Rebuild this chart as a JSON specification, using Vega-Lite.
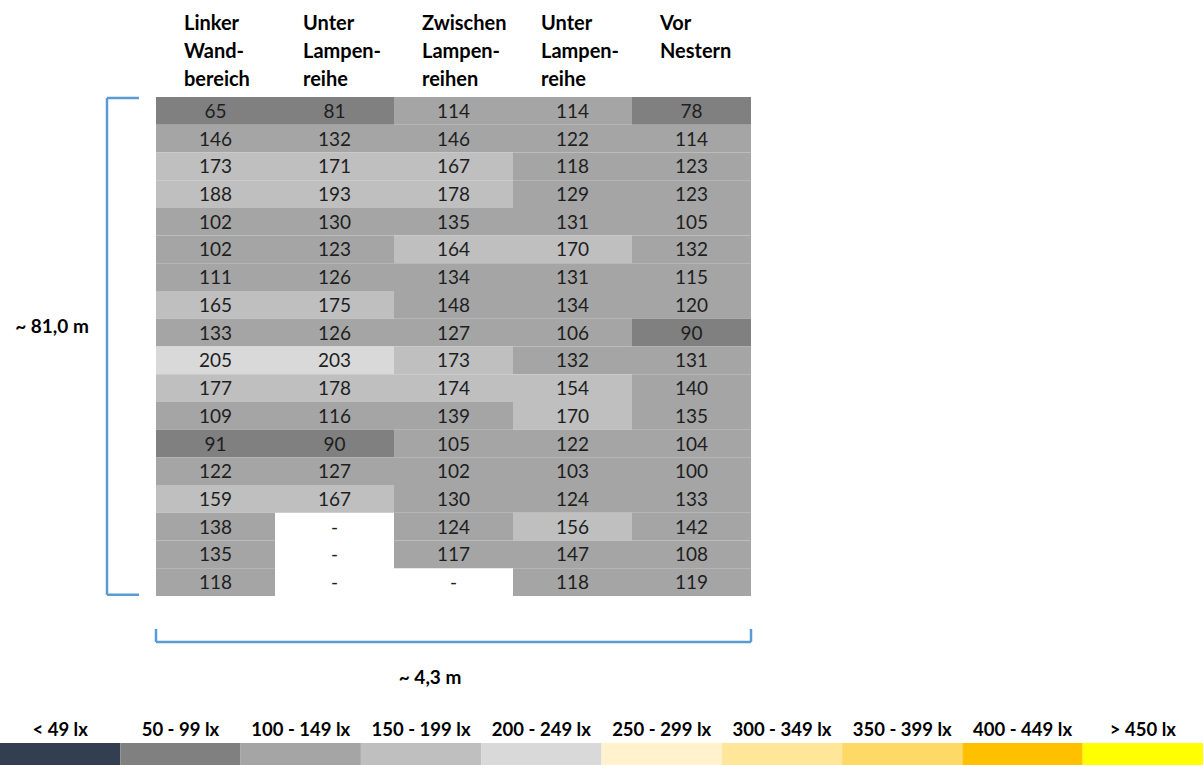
{
  "$schema": "https://vega.github.io/schema/vega-lite/v6.json",
  "width": 1203,
  "height": 765,
  "autosize": {"type": "fit", "contains": "padding"},
  "padding": 0,
  "background": "white",
  "config": {"view": {"stroke": null}, "font": "Lato"},
  "datasets": {
    "cells": [
      {"reihe":1,"spalte":1,"lux":65},{"reihe":1,"spalte":2,"lux":81},{"reihe":1,"spalte":3,"lux":114},{"reihe":1,"spalte":4,"lux":114},{"reihe":1,"spalte":5,"lux":78},
      {"reihe":2,"spalte":1,"lux":146},{"reihe":2,"spalte":2,"lux":132},{"reihe":2,"spalte":3,"lux":146},{"reihe":2,"spalte":4,"lux":122},{"reihe":2,"spalte":5,"lux":114},
      {"reihe":3,"spalte":1,"lux":173},{"reihe":3,"spalte":2,"lux":171},{"reihe":3,"spalte":3,"lux":167},{"reihe":3,"spalte":4,"lux":118},{"reihe":3,"spalte":5,"lux":123},
      {"reihe":4,"spalte":1,"lux":188},{"reihe":4,"spalte":2,"lux":193},{"reihe":4,"spalte":3,"lux":178},{"reihe":4,"spalte":4,"lux":129},{"reihe":4,"spalte":5,"lux":123},
      {"reihe":5,"spalte":1,"lux":102},{"reihe":5,"spalte":2,"lux":130},{"reihe":5,"spalte":3,"lux":135},{"reihe":5,"spalte":4,"lux":131},{"reihe":5,"spalte":5,"lux":105},
      {"reihe":6,"spalte":1,"lux":102},{"reihe":6,"spalte":2,"lux":123},{"reihe":6,"spalte":3,"lux":164},{"reihe":6,"spalte":4,"lux":170},{"reihe":6,"spalte":5,"lux":132},
      {"reihe":7,"spalte":1,"lux":111},{"reihe":7,"spalte":2,"lux":126},{"reihe":7,"spalte":3,"lux":134},{"reihe":7,"spalte":4,"lux":131},{"reihe":7,"spalte":5,"lux":115},
      {"reihe":8,"spalte":1,"lux":165},{"reihe":8,"spalte":2,"lux":175},{"reihe":8,"spalte":3,"lux":148},{"reihe":8,"spalte":4,"lux":134},{"reihe":8,"spalte":5,"lux":120},
      {"reihe":9,"spalte":1,"lux":133},{"reihe":9,"spalte":2,"lux":126},{"reihe":9,"spalte":3,"lux":127},{"reihe":9,"spalte":4,"lux":106},{"reihe":9,"spalte":5,"lux":90},
      {"reihe":10,"spalte":1,"lux":205},{"reihe":10,"spalte":2,"lux":203},{"reihe":10,"spalte":3,"lux":173},{"reihe":10,"spalte":4,"lux":132},{"reihe":10,"spalte":5,"lux":131},
      {"reihe":11,"spalte":1,"lux":177},{"reihe":11,"spalte":2,"lux":178},{"reihe":11,"spalte":3,"lux":174},{"reihe":11,"spalte":4,"lux":154},{"reihe":11,"spalte":5,"lux":140},
      {"reihe":12,"spalte":1,"lux":109},{"reihe":12,"spalte":2,"lux":116},{"reihe":12,"spalte":3,"lux":139},{"reihe":12,"spalte":4,"lux":170},{"reihe":12,"spalte":5,"lux":135},
      {"reihe":13,"spalte":1,"lux":91},{"reihe":13,"spalte":2,"lux":90},{"reihe":13,"spalte":3,"lux":105},{"reihe":13,"spalte":4,"lux":122},{"reihe":13,"spalte":5,"lux":104},
      {"reihe":14,"spalte":1,"lux":122},{"reihe":14,"spalte":2,"lux":127},{"reihe":14,"spalte":3,"lux":102},{"reihe":14,"spalte":4,"lux":103},{"reihe":14,"spalte":5,"lux":100},
      {"reihe":15,"spalte":1,"lux":159},{"reihe":15,"spalte":2,"lux":167},{"reihe":15,"spalte":3,"lux":130},{"reihe":15,"spalte":4,"lux":124},{"reihe":15,"spalte":5,"lux":133},
      {"reihe":16,"spalte":1,"lux":138},{"reihe":16,"spalte":2,"lux":null},{"reihe":16,"spalte":3,"lux":124},{"reihe":16,"spalte":4,"lux":156},{"reihe":16,"spalte":5,"lux":142},
      {"reihe":17,"spalte":1,"lux":135},{"reihe":17,"spalte":2,"lux":null},{"reihe":17,"spalte":3,"lux":117},{"reihe":17,"spalte":4,"lux":147},{"reihe":17,"spalte":5,"lux":108},
      {"reihe":18,"spalte":1,"lux":118},{"reihe":18,"spalte":2,"lux":null},{"reihe":18,"spalte":3,"lux":null},{"reihe":18,"spalte":4,"lux":118},{"reihe":18,"spalte":5,"lux":119}
    ],
    "headers": [
      {"spalte":1,"titel":"Linker\nWand-\nbereich"},
      {"spalte":2,"titel":"Unter\nLampen-\nreihe"},
      {"spalte":3,"titel":"Zwischen\nLampen-\nreihen"},
      {"spalte":4,"titel":"Unter\nLampen-\nreihe"},
      {"spalte":5,"titel":"Vor\nNestern"}
    ],
    "legende": [
      {"label":"< 49 lx","min":0},
      {"label":"50 - 99 lx","min":50},
      {"label":"100 - 149 lx","min":100},
      {"label":"150 - 199 lx","min":150},
      {"label":"200 - 249 lx","min":200},
      {"label":"250 - 299 lx","min":250},
      {"label":"300 - 349 lx","min":300},
      {"label":"350 - 399 lx","min":350},
      {"label":"400 - 449 lx","min":400},
      {"label":"> 450 lx","min":450}
    ],
    "eins": [{}]
  },
  "layer": [
    {
      "layer": [
        {
          "data": {"name": "cells"},
          "transform": [
            {"filter": "datum.lux != null"},
            {"calculate": "datum.spalte - 1", "as": "x0"},
            {"calculate": "datum.reihe - 1", "as": "y0"}
          ],
          "mark": {"type": "rect", "strokeWidth": 0},
          "encoding": {
            "x": {"field": "x0", "type": "quantitative", "axis": null, "scale": {"domain": [-1.3109, 8.7983], "nice": false, "zero": false}},
            "x2": {"field": "spalte"},
            "y": {"field": "y0", "type": "quantitative", "axis": null, "scale": {"domain": [-3.4993, 24.098], "nice": false, "zero": false, "reverse": true}},
            "y2": {"field": "reihe"},
            "color": {"field": "lux", "type": "quantitative", "legend": null,
              "scale": {"type": "threshold", "domain": [50, 100, 150, 200, 250, 300, 350, 400, 450],
                "range": ["#333F50", "#808080", "#A5A5A5", "#BFBFBF", "#D9D9D9", "#FFF2CC", "#FFE699", "#FFD966", "#FFC000", "#FFFF00"]}}
          }
        },
        {
          "data": {"name": "cells"},
          "transform": [
            {"calculate": "datum.spalte - 0.5", "as": "xc"},
            {"calculate": "datum.reihe - 0.5", "as": "yc"},
            {"calculate": "datum.lux == null ? '-' : '' + datum.lux", "as": "txt"}
          ],
          "mark": {"type": "text", "align": "center", "baseline": "middle", "fontSize": 19, "color": "#1e1e1e", "dy": 1},
          "encoding": {
            "x": {"field": "xc", "type": "quantitative", "axis": null, "scale": {"domain": [-1.3109, 8.7983], "nice": false, "zero": false}},
            "y": {"field": "yc", "type": "quantitative", "axis": null, "scale": {"domain": [-3.4993, 24.098], "nice": false, "zero": false, "reverse": true}},
            "text": {"field": "txt"}
          }
        },
        {
          "data": {"name": "headers"},
          "transform": [{"calculate": "datum.spalte - 1", "as": "x0"}],
          "mark": {"type": "text", "align": "left", "baseline": "top", "fontSize": 20, "fontWeight": "bold", "color": "#000000", "lineBreak": "\n", "lineHeight": 28, "dx": 28},
          "encoding": {
            "x": {"field": "x0", "type": "quantitative", "axis": null, "scale": {"domain": [-1.3109, 8.7983], "nice": false, "zero": false}},
            "y": {"datum": -3.0, "type": "quantitative", "axis": null, "scale": {"domain": [-3.4993, 24.098], "nice": false, "zero": false, "reverse": true}},
            "text": {"field": "titel"}
          }
        },
        {
          "data": {"name": "eins"},
          "mark": {"type": "rule", "color": "#5B9BD5", "strokeWidth": 2.5},
          "encoding": {
            "x": {"datum": -0.4118, "type": "quantitative", "axis": null, "scale": {"domain": [-1.3109, 8.7983], "nice": false, "zero": false}},
            "y": {"datum": 0.04, "type": "quantitative", "axis": null, "scale": {"domain": [-3.4993, 24.098], "nice": false, "zero": false, "reverse": true}},
            "y2": {"datum": 17.96}
          }
        },
        {
          "data": {"name": "eins"},
          "mark": {"type": "rule", "color": "#5B9BD5", "strokeWidth": 2.5},
          "encoding": {
            "x": {"datum": -0.4118, "type": "quantitative", "axis": null, "scale": {"domain": [-1.3109, 8.7983], "nice": false, "zero": false}},
            "x2": {"datum": -0.1429},
            "y": {"datum": 0.04, "type": "quantitative", "axis": null, "scale": {"domain": [-3.4993, 24.098], "nice": false, "zero": false, "reverse": true}}
          }
        },
        {
          "data": {"name": "eins"},
          "mark": {"type": "rule", "color": "#5B9BD5", "strokeWidth": 2.5},
          "encoding": {
            "x": {"datum": -0.4118, "type": "quantitative", "axis": null, "scale": {"domain": [-1.3109, 8.7983], "nice": false, "zero": false}},
            "x2": {"datum": -0.1429},
            "y": {"datum": 17.96, "type": "quantitative", "axis": null, "scale": {"domain": [-3.4993, 24.098], "nice": false, "zero": false, "reverse": true}}
          }
        },
        {
          "data": {"name": "eins"},
          "mark": {"type": "rule", "color": "#5B9BD5", "strokeWidth": 2.5},
          "encoding": {
            "x": {"datum": 0, "type": "quantitative", "axis": null, "scale": {"domain": [-1.3109, 8.7983], "nice": false, "zero": false}},
            "x2": {"datum": 5},
            "y": {"datum": 19.66, "type": "quantitative", "axis": null, "scale": {"domain": [-3.4993, 24.098], "nice": false, "zero": false, "reverse": true}}
          }
        },
        {
          "data": {"name": "eins"},
          "mark": {"type": "rule", "color": "#5B9BD5", "strokeWidth": 2.5},
          "encoding": {
            "x": {"datum": 0, "type": "quantitative", "axis": null, "scale": {"domain": [-1.3109, 8.7983], "nice": false, "zero": false}},
            "y": {"datum": 19.19, "type": "quantitative", "axis": null, "scale": {"domain": [-3.4993, 24.098], "nice": false, "zero": false, "reverse": true}},
            "y2": {"datum": 19.66}
          }
        },
        {
          "data": {"name": "eins"},
          "mark": {"type": "rule", "color": "#5B9BD5", "strokeWidth": 2.5},
          "encoding": {
            "x": {"datum": 5, "type": "quantitative", "axis": null, "scale": {"domain": [-1.3109, 8.7983], "nice": false, "zero": false}},
            "y": {"datum": 19.19, "type": "quantitative", "axis": null, "scale": {"domain": [-3.4993, 24.098], "nice": false, "zero": false, "reverse": true}},
            "y2": {"datum": 19.66}
          }
        },
        {
          "data": {"name": "eins"},
          "mark": {"type": "text", "align": "center", "baseline": "middle", "fontSize": 19, "fontWeight": "bold", "color": "#000000"},
          "encoding": {
            "x": {"datum": -0.874, "type": "quantitative", "axis": null, "scale": {"domain": [-1.3109, 8.7983], "nice": false, "zero": false}},
            "y": {"datum": 8.3, "type": "quantitative", "axis": null, "scale": {"domain": [-3.4993, 24.098], "nice": false, "zero": false, "reverse": true}},
            "text": {"value": "~ 81,0 m"}
          }
        },
        {
          "data": {"name": "eins"},
          "mark": {"type": "text", "align": "center", "baseline": "middle", "fontSize": 19, "fontWeight": "bold", "color": "#000000"},
          "encoding": {
            "x": {"datum": 2.303, "type": "quantitative", "axis": null, "scale": {"domain": [-1.3109, 8.7983], "nice": false, "zero": false}},
            "y": {"datum": 20.96, "type": "quantitative", "axis": null, "scale": {"domain": [-3.4993, 24.098], "nice": false, "zero": false, "reverse": true}},
            "text": {"value": "~ 4,3 m"}
          }
        }
      ]
    },
    {
      "data": {"name": "legende"},
      "layer": [
        {
          "mark": {"type": "rect", "strokeWidth": 0},
          "encoding": {
            "x": {"field": "label", "type": "nominal", "sort": null, "axis": null, "scale": {"paddingInner": 0, "paddingOuter": 0}},
            "y": {"datum": 23.304, "type": "quantitative", "axis": null, "scale": {"domain": [-3.4993, 24.098], "nice": false, "zero": false, "reverse": true}},
            "y2": {"datum": 24.098},
            "color": {"field": "min", "type": "quantitative", "legend": null,
              "scale": {"type": "threshold", "domain": [50, 100, 150, 200, 250, 300, 350, 400, 450],
                "range": ["#333F50", "#808080", "#A5A5A5", "#BFBFBF", "#D9D9D9", "#FFF2CC", "#FFE699", "#FFD966", "#FFC000", "#FFFF00"]}}
          }
        },
        {
          "mark": {"type": "text", "align": "center", "baseline": "middle", "fontSize": 18.5, "fontWeight": "bold", "color": "#000000"},
          "encoding": {
            "x": {"field": "label", "type": "nominal", "sort": null, "axis": null, "scale": {"paddingInner": 0, "paddingOuter": 0}},
            "y": {"datum": 22.84, "type": "quantitative", "axis": null, "scale": {"domain": [-3.4993, 24.098], "nice": false, "zero": false, "reverse": true}},
            "text": {"field": "label"}
          }
        }
      ]
    }
  ],
  "resolve": {"scale": {"x": "independent"}}
}
